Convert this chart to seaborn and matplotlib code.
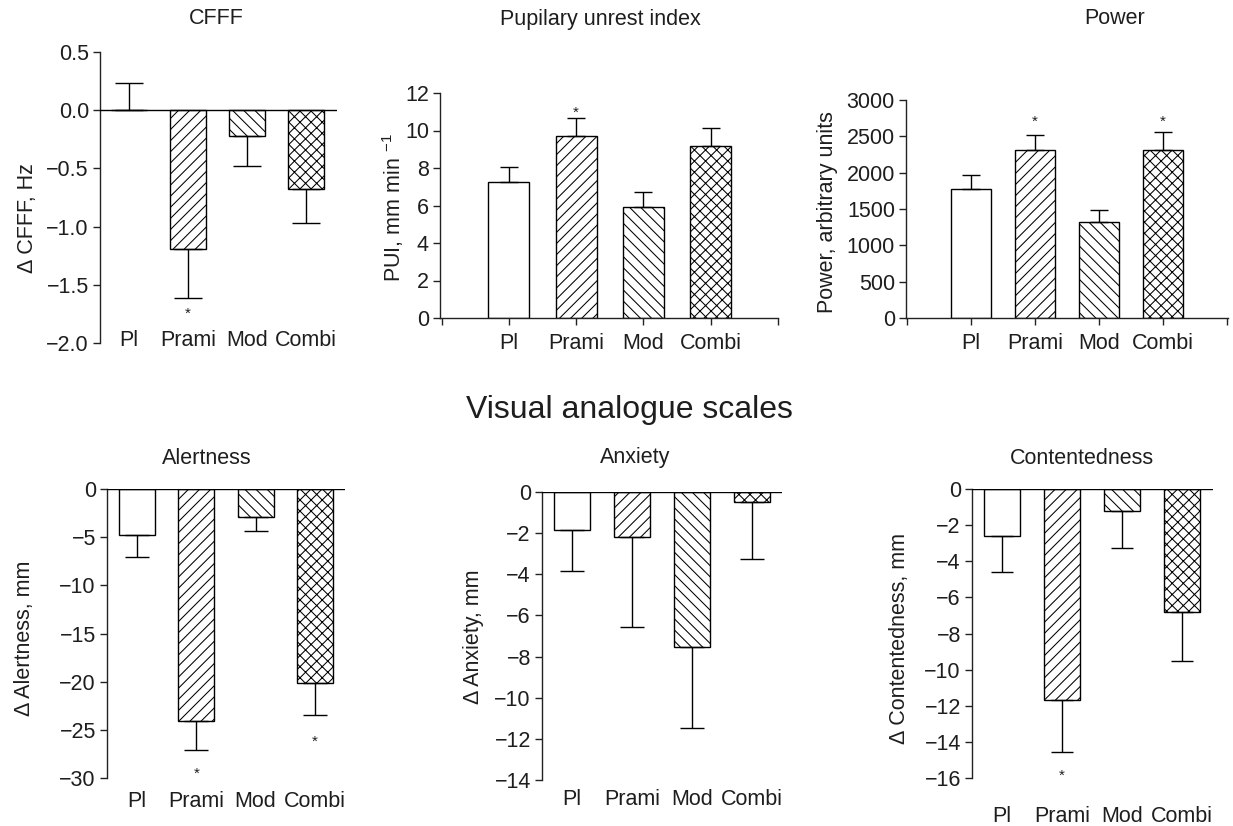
import numpy as np
import pandas as pd
import matplotlib
matplotlib.use("Agg")
import matplotlib.pyplot as plt
import seaborn as sns

# ---------------- data ----------------
categories = ["Pl", "Prami", "Mod", "Combi"]
hatches = ["", "///", "\\\\\\", "xxx"]

cfff_mean = [0.005, -1.19, -0.22, -0.68]
cfff_sem = [0.23, 0.42, 0.26, 0.29]

pui_mean = [7.28, 9.72, 5.94, 9.15]
pui_sem = [0.76, 0.93, 0.76, 1.0]

power_mean = [1769, 2311, 1323, 2306]
power_sem = [202, 202, 170, 253]

alert_mean = [-4.74, -24.05, -2.9, -20.1]
alert_sem = [2.32, 3.01, 1.43, 3.36]

anx_mean = [-1.83, -2.19, -7.52, -0.5]
anx_sem = [2.0, 4.38, 3.94, 2.76]

cont_mean = [-2.62, -11.7, -1.22, -6.81]
cont_sem = [1.96, 2.88, 2.05, 2.73]

# significance stars: (category index, y value)
cfff_stars = [(1, -1.71)]
pui_stars = [(1, 11.23)]
power_stars = [(1, 2761), (3, 2761)]
alert_stars = [(1, -29.07), (3, -25.78)]
anx_stars = []
cont_stars = [(1, -15.63)]

titles = ["CFFF", "Pupilary unrest index", "Power",
          "Alertness", "Anxiety", "Contentedness"]
ylabels = ["\u0394 CFFF, Hz", r"PUI, mm min $^{-1}$", "Power, arbitrary units",
           "\u0394 Alertness, mm", "\u0394 Anxiety, mm", "\u0394 Contentedness, mm"]
section_title = "Visual analogue scales"

# ---------------- style ----------------
sns.set_theme(style="ticks")
plt.rcParams["font.family"] = ["Liberation Sans", "DejaVu Sans"]
plt.rcParams["mathtext.fontset"] = "custom"
plt.rcParams["mathtext.rm"] = "Liberation Sans"
plt.rcParams["mathtext.it"] = "Liberation Sans:italic"
plt.rcParams["mathtext.bf"] = "Liberation Sans:bold"
plt.rcParams["hatch.linewidth"] = 0.75
plt.rcParams["hatch.color"] = "black"
TXT = "#1e1e1e"
FS = 15.5

W, H = 1233, 826
fig = plt.figure(figsize=(W / 100, H / 100), dpi=100)
fig.patch.set_facecolor("white")


def px_axes(x0, x1, ytop, ybot):
    return fig.add_axes([x0 / W, 1 - ybot / H, (x1 - x0) / W, (ybot - ytop) / H])


def panel(ax, means, sems, stars, ylim, yticks, xlim, ylabel, label_xy,
          capsize, mode, pad, star_fs=11):
    df = pd.DataFrame({"cat": categories, "val": means})
    sns.barplot(data=df, x="cat", y="val", ax=ax, color="white",
                edgecolor="black", linewidth=1.0, width=0.61,
                errorbar=None, saturation=1)
    for p, h in zip(ax.patches, hatches):
        p.set_facecolor("white")
        p.set_hatch(h)
        p.set_edgecolor("black")
    m = np.array(means, dtype=float)
    s = np.array(sems, dtype=float)
    lower = np.where(m < 0, s, 0)
    upper = np.where(m >= 0, s, 0)
    ax.errorbar(np.arange(len(categories)), m, yerr=[lower, upper], fmt="none",
                ecolor="black", elinewidth=1.0, capsize=capsize, capthick=1.0,
                zorder=1)
    for i, yv in stars:
        ax.annotate("*", xy=(i, yv), xytext=(0, -3.5), textcoords="offset points",
                    ha="center", va="center", fontsize=star_fs, color=TXT)
    ax.set_ylim(*ylim)
    ax.set_yticks(yticks)
    ax.set_xlim(*xlim)
    ax.set_xlabel("")
    ax.set_ylabel(ylabel, fontsize=FS, color=TXT)
    ax.yaxis.label.set_va("center")
    ax.yaxis.set_label_coords(*label_xy)
    for sp in ["top", "right"]:
        ax.spines[sp].set_visible(False)
    ax.spines["left"].set_linewidth(1.0)
    ax.spines["left"].set_color("#222222")
    ax.tick_params(axis="y", direction="out", length=5, width=1.0,
                   labelsize=FS, labelcolor=TXT, color="#222222", pad=3)
    if mode == "zero":
        ax.spines["bottom"].set_visible(False)
        ax.axhline(0, color="black", lw=1.0, zorder=3)
        ax.set_xticks(range(len(categories)))
        ax.set_xticklabels(categories)
        ax.tick_params(axis="x", length=0, labelsize=FS, labelcolor=TXT, pad=pad)
    else:
        ax.spines["bottom"].set_linewidth(1.0)
        ax.spines["bottom"].set_color("#222222")
        ticks = list(range(-1, len(categories) + 1))
        ax.set_xticks(ticks)
        ax.set_xticklabels([""] + categories + [""])
        ax.tick_params(axis="x", direction="out", length=5, width=1.0,
                       labelsize=FS, labelcolor=TXT, color="#222222", pad=pad)
    ax.set_facecolor("none")


# CFFF
ax1 = px_axes(100, 337, 52, 343)
panel(ax1, cfff_mean, cfff_sem, cfff_stars, (-2.0, 0.5),
      [-2.0, -1.5, -1.0, -0.5, 0.0, 0.5], (-0.49, 3.52), ylabels[0],
      (-0.304, 0.43), 10, "zero", -9.5)

# PUI
ax2 = px_axes(440, 778, 93, 318)
panel(ax2, pui_mean, pui_sem, pui_stars, (0, 12), [0, 2, 4, 6, 8, 10, 12],
      (-1.025, 4.0), ylabels[1], (-0.139, 0.49), 6.5, "axis", 5.5)

# Power
ax3 = px_axes(906, 1228, 100, 318)
panel(ax3, power_mean, power_sem, power_stars, (0, 3000),
      [0, 500, 1000, 1500, 2000, 2500, 3000], (-1.016, 4.016), ylabels[2],
      (-0.245, 0.486), 6.3, "axis", 5.5)

# Alertness
ax4 = px_axes(107, 345, 489, 778)
panel(ax4, alert_mean, alert_sem, alert_stars, (-30, 0),
      [-30, -25, -20, -15, -10, -5, 0], (-0.506, 3.508), ylabels[3],
      (-0.345, 0.484), 8.3, "zero", 9.5)

# Anxiety
ax5 = px_axes(542, 782, 492, 780)
panel(ax5, anx_mean, anx_sem, anx_stars, (-14, 0),
      [-14, -12, -10, -8, -6, -4, -2, 0], (-0.5, 3.5), ylabels[4],
      (-0.2875, 0.497), 8.3, "zero", 6.5)

# Contentedness
ax6 = px_axes(972, 1213, 489, 778)
panel(ax6, cont_mean, cont_sem, cont_stars, (-16, 0),
      [-16, -14, -12, -10, -8, -6, -4, -2, 0], (-0.5, 3.52), ylabels[5],
      (-0.299, 0.481), 8.0, "zero", 20.5)

# titles (figure pixel positions)
title_pos = [(216, 19), (600, 19), (1115, 19), (207, 458), (635, 458), (1082, 458)]
for t, (x, y) in zip(titles, title_pos):
    fig.text(x / W, 1 - y / H, t, ha="center", va="center", fontsize=FS, color=TXT)
fig.text(629 / W, 1 - 410 / H, section_title, ha="center", va="center",
         fontsize=23, color=TXT)

fig.savefig("out.png", dpi=100, facecolor="white")
